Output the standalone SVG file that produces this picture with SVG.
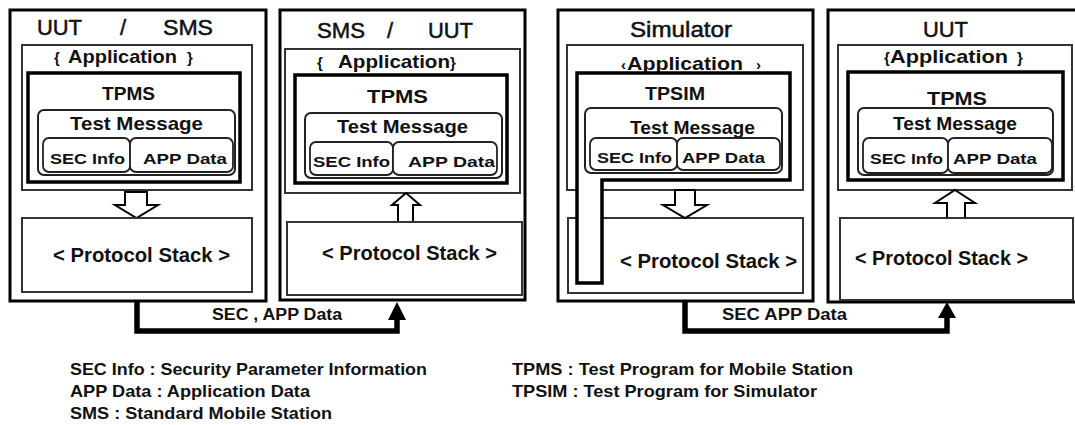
<svg xmlns="http://www.w3.org/2000/svg" width="1075" height="425" viewBox="0 0 1075 425">
<style>
  text { font-family: "Liberation Sans", Arial, sans-serif; font-weight: bold; fill: #111; }
  .outer { fill: #fff; stroke: #000; stroke-width: 3; }
  .app { fill: #fff; stroke: #333; stroke-width: 2; }
  .tp { fill: #fff; stroke: #000; stroke-width: 3.5; }
  .msg { fill: #fff; stroke: #222; stroke-width: 2; }
  .fld { fill: #fff; stroke: #222; stroke-width: 1.8; }
  .stack { fill: #fff; stroke: #333; stroke-width: 2; }
  .blk { fill: #fff; stroke: #000; stroke-width: 2; stroke-linejoin: miter; }
  .conn { fill: none; stroke: #000; stroke-width: 5.5; stroke-linejoin: miter; }
  .head { fill: #000; }
  .t22 { font-size: 22px; font-weight: normal; stroke: #111; stroke-width: 0.5; }
  .t20 { font-size: 19px; }
  .ps { font-size: 20px; }
  .t15 { font-size: 15px; }
  .t16 { font-size: 16px; }
  .leg { font-size: 17px; }
</style>

<g id="panel1">
  <rect class="outer" x="10" y="10" width="256" height="291"/>
  <text class="t22" y="35"><tspan x="37" textLength="45" lengthAdjust="spacingAndGlyphs">UUT</tspan><tspan x="120">/</tspan><tspan x="163" textLength="50" lengthAdjust="spacingAndGlyphs">SMS</tspan></text>
  <rect class="app" x="22" y="45" width="230" height="145"/>
  <text class="t20" y="63"><tspan x="54" font-size="15">{</tspan><tspan x="68" textLength="109" lengthAdjust="spacingAndGlyphs">Application</tspan><tspan x="187" font-size="15">}</tspan></text>
  <rect class="tp" x="28" y="73" width="212" height="109"/>
  <text class="t20" x="102" y="100" textLength="53" lengthAdjust="spacingAndGlyphs">TPMS</text>
  <rect class="msg" x="38" y="110" width="197" height="65" rx="6"/>
  <text class="t20" x="70" y="130" textLength="133" lengthAdjust="spacingAndGlyphs">Test Message</text>
  <rect class="fld" x="43" y="138" width="87" height="34" rx="6"/>
  <rect class="fld" x="130" y="138" width="103" height="34" rx="6"/>
  <text class="t15" x="50" y="164" textLength="75" lengthAdjust="spacingAndGlyphs">SEC Info</text>
  <text class="t15" x="143" y="164" textLength="84" lengthAdjust="spacingAndGlyphs">APP Data</text>
  <polygon class="blk" points="125,192 147,192 147,205 158,205 136.5,218 115,205 125,205"/>
  <rect class="stack" x="22" y="218" width="230" height="74"/>
  <text class="ps" x="53" y="262" textLength="177" lengthAdjust="spacingAndGlyphs">&lt; Protocol Stack &gt;</text>
</g>

<g id="panel2">
  <rect class="outer" x="280" y="10" width="245" height="290"/>
  <text class="t22" y="38"><tspan x="317" textLength="48" lengthAdjust="spacingAndGlyphs">SMS</tspan><tspan x="387">/</tspan><tspan x="428" textLength="45" lengthAdjust="spacingAndGlyphs">UUT</tspan></text>
  <rect class="app" x="285" y="49" width="235" height="144"/>
  <text class="t20" y="68"><tspan x="317" font-size="15">{</tspan><tspan x="338" textLength="112" lengthAdjust="spacingAndGlyphs">Application</tspan><tspan x="450" font-size="15">}</tspan></text>
  <rect class="tp" x="295" y="75" width="212" height="108"/>
  <text class="t20" x="367" y="103" textLength="61" lengthAdjust="spacingAndGlyphs">TPMS</text>
  <rect class="msg" x="305" y="113" width="197" height="65" rx="6"/>
  <text class="t20" x="337" y="133" textLength="131" lengthAdjust="spacingAndGlyphs">Test Message</text>
  <rect class="fld" x="310" y="142" width="83" height="33" rx="6"/>
  <rect class="fld" x="393" y="142" width="104" height="33" rx="6"/>
  <text class="t15" x="313" y="167" textLength="77" lengthAdjust="spacingAndGlyphs">SEC Info</text>
  <text class="t15" x="408" y="167" textLength="87" lengthAdjust="spacingAndGlyphs">APP Data</text>
  <polygon class="blk" points="406,193 420,205 413,205 413,222 398,222 398,205 392,205"/>
  <rect class="stack" x="287" y="222" width="235" height="73"/>
  <text class="ps" x="322" y="260" textLength="175" lengthAdjust="spacingAndGlyphs">&lt; Protocol Stack &gt;</text>
</g>

<g id="panel3">
  <rect class="outer" x="558" y="10" width="255" height="291"/>
  <text class="t22" x="630" y="37" textLength="102" lengthAdjust="spacingAndGlyphs">Simulator</text>
  <rect class="app" x="567" y="45" width="236" height="145"/>
  <text class="t20" y="70"><tspan x="621" font-size="15">‹</tspan><tspan x="627" textLength="116" lengthAdjust="spacingAndGlyphs">Application</tspan><tspan x="756" font-size="15">›</tspan></text>
  <rect class="stack" x="568" y="218" width="235" height="75"/>
  <path class="tp" d="M577,73 H790 V180 H602 V283 H577 Z"/>
  <text class="t20" x="645" y="100" textLength="60" lengthAdjust="spacingAndGlyphs">TPSIM</text>
  <rect class="msg" x="585" y="108" width="197" height="65" rx="6"/>
  <text class="t20" x="630" y="134" textLength="125" lengthAdjust="spacingAndGlyphs">Test Message</text>
  <rect class="fld" x="590" y="138" width="87" height="32" rx="6"/>
  <rect class="fld" x="677" y="138" width="103" height="32" rx="6"/>
  <text class="t15" x="597" y="163" textLength="75" lengthAdjust="spacingAndGlyphs">SEC Info</text>
  <text class="t15" x="682" y="163" textLength="83" lengthAdjust="spacingAndGlyphs">APP Data</text>
  <polygon class="blk" points="675,190 695,190 695,205 707,205 685,218 663,205 675,205"/>
  <text class="ps" x="620" y="268" textLength="177" lengthAdjust="spacingAndGlyphs">&lt; Protocol Stack &gt;</text>
</g>

<g id="panel4">
  <rect class="outer" x="828" y="10" width="260" height="292"/>
  <text class="t22" x="923" y="37" textLength="45" lengthAdjust="spacingAndGlyphs">UUT</text>
  <rect class="app" x="838" y="45" width="234" height="145"/>
  <text class="t20" y="63"><tspan x="884" font-size="15">{</tspan><tspan x="890" textLength="118" lengthAdjust="spacingAndGlyphs">Application</tspan><tspan x="1017" font-size="15">}</tspan></text>
  <rect class="tp" x="848" y="72" width="215" height="108"/>
  <text class="t20" x="927" y="105" textLength="60" lengthAdjust="spacingAndGlyphs">TPMS</text>
  <rect class="msg" x="858" y="108" width="195" height="67" rx="6"/>
  <text class="t20" x="893" y="130" textLength="124" lengthAdjust="spacingAndGlyphs">Test Message</text>
  <rect class="fld" x="863" y="138" width="85" height="35" rx="6"/>
  <rect class="fld" x="948" y="138" width="104" height="35" rx="6"/>
  <text class="t15" x="870" y="164" textLength="73" lengthAdjust="spacingAndGlyphs">SEC Info</text>
  <text class="t15" x="953" y="164" textLength="84" lengthAdjust="spacingAndGlyphs">APP Data</text>
  <polygon class="blk" points="955,190 975,203 965,203 965,218 947,218 947,203 935,203"/>
  <rect class="stack" x="840" y="218" width="233" height="82"/>
  <text class="ps" x="855" y="265" textLength="173" lengthAdjust="spacingAndGlyphs">&lt; Protocol Stack &gt;</text>
</g>

<g id="connectors">
  <path class="conn" d="M137,301 V331 H397 V316"/>
  <polygon class="head" points="397,302 406,320 388,320"/>
  <text class="t16" x="212" y="320" textLength="130" lengthAdjust="spacingAndGlyphs">SEC , APP Data</text>
  <path class="conn" d="M685,301 V331 H947 V314"/>
  <polygon class="head" points="947,302 956,318 938,318"/>
  <text class="t16" x="722" y="320" textLength="125" lengthAdjust="spacingAndGlyphs">SEC APP Data</text>
</g>

<g id="legend">
  <text class="leg" x="70" y="375" textLength="357" lengthAdjust="spacingAndGlyphs">SEC Info : Security Parameter Information</text>
  <text class="leg" x="70" y="397" textLength="240" lengthAdjust="spacingAndGlyphs">APP Data : Application Data</text>
  <text class="leg" x="70" y="419" textLength="262" lengthAdjust="spacingAndGlyphs">SMS : Standard Mobile Station</text>
  <text class="leg" x="512" y="375" textLength="341" lengthAdjust="spacingAndGlyphs">TPMS : Test Program for Mobile Station</text>
  <text class="leg" x="512" y="397" textLength="305" lengthAdjust="spacingAndGlyphs">TPSIM : Test Program for Simulator</text>
</g>
</svg>
